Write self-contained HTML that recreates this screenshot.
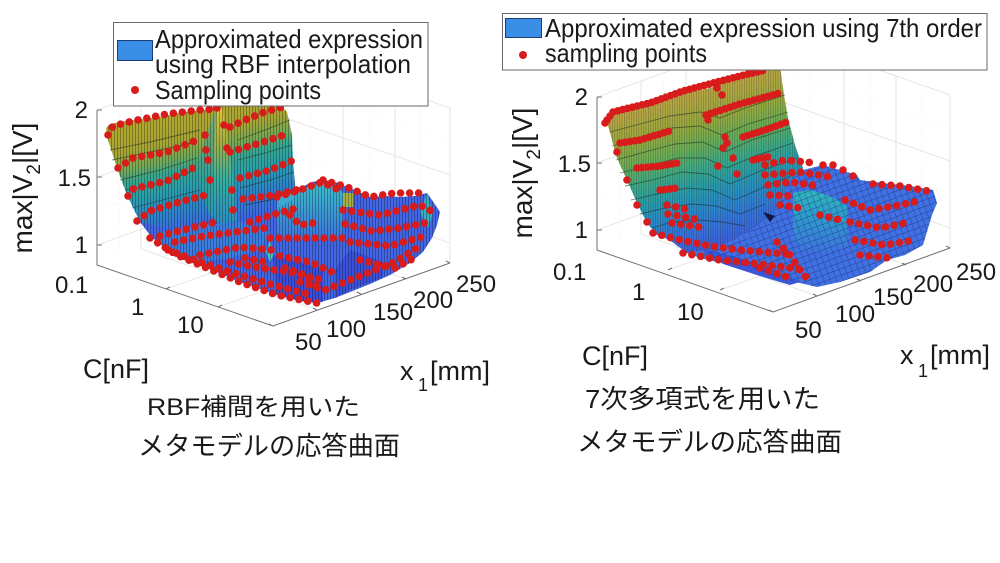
<!DOCTYPE html>
<html><head><meta charset="utf-8"><style>
html,body{margin:0;padding:0;background:#fff;}
svg{display:block;}
.t{font-family:"Liberation Sans","Noto Sans CJK JP",sans-serif;fill:#1a1a1a;}
.d{fill:none;stroke:#d81c1c;stroke-width:7.6;stroke-linecap:round;stroke-dasharray:0 9;}
.dd{fill:none;stroke:#d81c1c;stroke-width:7.6;stroke-linecap:round;stroke-dasharray:0 5;}
.g{stroke:#e2e2e2;stroke-width:0.9;fill:none;}
.gm{stroke:#ececec;stroke-width:0.7;fill:none;stroke-dasharray:1 2;}
.ax{stroke:#707070;stroke-width:1;fill:none;}
.c{fill:none;stroke:#1a2a20;stroke-width:0.9;stroke-opacity:0.55;}
</style></head><body>
<svg width="1000" height="563" viewBox="0 0 1000 563" xmlns="http://www.w3.org/2000/svg">
<defs>
<pattern id="vs" patternUnits="userSpaceOnUse" width="3" height="20"><rect x="0" y="0" width="0.9" height="20" fill="#000" fill-opacity="0.32"/></pattern>
<pattern id="vs2" patternUnits="userSpaceOnUse" width="2.4" height="20"><rect x="0" y="0" width="0.7" height="20" fill="#000" fill-opacity="0.28"/></pattern>
<pattern id="mesh" patternUnits="userSpaceOnUse" width="6" height="6" patternTransform="rotate(-20)"><path d="M0,0H6M0,0V6" stroke="#0c1850" stroke-width="0.9" stroke-opacity="0.55" fill="none"/></pattern>
<linearGradient id="gW" gradientUnits="userSpaceOnUse" x1="150" y1="100" x2="185" y2="245">
<stop offset="0" stop-color="#b8aa2a"/><stop offset="0.3" stop-color="#a9a634"/><stop offset="0.42" stop-color="#74aa56"/><stop offset="0.5" stop-color="#38a890"/><stop offset="0.62" stop-color="#2aa0ac"/><stop offset="0.75" stop-color="#2c88c8"/><stop offset="0.88" stop-color="#3a6ee0"/><stop offset="1" stop-color="#4458e6"/>
</linearGradient>
<linearGradient id="gS" gradientUnits="userSpaceOnUse" x1="0" y1="106" x2="0" y2="226">
<stop offset="0" stop-color="#e2c93a"/><stop offset="0.3" stop-color="#a8b040"/><stop offset="0.6" stop-color="#38b0a0"/><stop offset="1" stop-color="#2a8cc4"/>
</linearGradient>
<linearGradient id="gC" gradientUnits="userSpaceOnUse" x1="0" y1="180" x2="0" y2="240">
<stop offset="0" stop-color="#40c0cc"/><stop offset="0.35" stop-color="#3aa8d0"/><stop offset="1" stop-color="#3f74e0"/>
</linearGradient>
<linearGradient id="gW2" gradientUnits="userSpaceOnUse" x1="640" y1="90" x2="690" y2="257">
<stop offset="0" stop-color="#c6aa52"/><stop offset="0.12" stop-color="#baa846"/><stop offset="0.28" stop-color="#98ac40"/><stop offset="0.4" stop-color="#6cb058"/><stop offset="0.52" stop-color="#40ac88"/><stop offset="0.62" stop-color="#2ca2a8"/><stop offset="0.74" stop-color="#2a8ec8"/><stop offset="0.86" stop-color="#3676dc"/><stop offset="1" stop-color="#4060e0"/>
</linearGradient>
<linearGradient id="gC2" gradientUnits="userSpaceOnUse" x1="0" y1="188" x2="0" y2="255">
<stop offset="0" stop-color="#30b8b8"/><stop offset="0.4" stop-color="#2e9ccc"/><stop offset="1" stop-color="#3d70e0"/>
</linearGradient>
</defs>

<!-- ================= LEFT CHART ================= -->
<polygon points="97,110 274,47 450,108 450,263 274,202 97,265" fill="#fff"/>
<path class="g" d="M97,245 L274,182 L450,243 M97,177 L274,114 L450,175 M97,110 L274,47 L450,108 M274,47 V202 M450,108 V263 M141,249 V93 M186,234 V77 M230,218 V62 M343,226 V71 M395,244 V89"/>
<path class="gm" d="M97,211 L274,148 L450,209 M97,143 L274,80 L450,141 M119,257 V101 M163,241 V85 M208,226 V70 M252,210 V55 M310,215 V60 M370,235 V80 M420,252 V97"/>
<path class="g" d="M166,289 L343,226 M218,307 L395,244 M317,310 L141,249 M361,294 L186,234 M406,279 L230,218"/>
<path class="ax" d="M97,110 V265 L273,326 L450,263 M97,110 h5 M97,177 h5 M97,245 h5 M166,289 l4,-2 M218,307 l4,-2 M317,310 l-4,-2 M361,294 l-4,-2 M406,279 l-4,-2 M450,263 l-4,-2 M273,326 l-4,-2"/>

<polygon points="106,128 110,124 125,121 145,119 165,116 185,112 205,110 215,106 235,104 255,104 270,103 280,104 287,112 292,135 293,160 295,185 290,205 270,215 240,225 200,235 160,245 140,222 127,195 117,168 108,140" fill="url(#gW)"/>
<polygon points="106,128 110,124 125,121 145,119 165,116 185,112 205,110 215,106 235,104 255,104 270,103 280,104 287,112 292,135 293,160 295,185 290,205 270,215 240,225 200,235 160,245 140,222 127,195 117,168 108,140" fill="url(#vs)"/>
<path class="c" d="M110,150 L150,142 L200,130 M112,160 L150,152 L197,142 M120,180 L160,170 L197,158 M125,190 L165,182 L195,170 M132,208 L170,198 L200,190 M238,140 L265,130 L290,120 M238,160 L265,153 L292,145 M240,188 L270,180 L294,172 M245,205 L270,200 L294,194"/>
<polygon points="198,165 205,140 212,118 217,106 222,108 228,140 233,180 238,222 222,226 210,215 203,195" fill="url(#gS)"/>
<polygon points="198,165 205,140 212,118 217,106 214,150 212,200 210,215 203,195" fill="#2a9a9a" fill-opacity="0.55"/>
<polygon points="198,165 205,140 212,118 217,106 222,108 228,140 233,180 238,222 222,226 210,215 203,195" fill="url(#vs)"/>

<polygon points="140,222 150,235 157,242 177,255 207,268 240,282 277,295 300,301 317,303 335,298 350,292 370,284 390,275 410,263 423,252 432,238 437,225 440,212 432,200 427,193 415,196 400,197 385,196 370,197 355,190 347,187 335,182 323,180 312,182 300,188 292,200 275,210 250,218 220,225 190,230 165,228" fill="#4266e4"/>
<polygon points="273,255 300,262 323,270 323,302 300,301 277,295" fill="#3a4ed8"/>
<polygon points="350,250 383,262 383,277 350,290 335,298 335,270" fill="#3a52da"/>
<polygon points="160,232 200,225 240,222 270,232 260,250 230,258 200,262 177,255 157,242" fill="#3c7ee0"/>
<polygon points="277,195 300,189 323,182 343,192 343,237 300,240 277,237" fill="url(#gC)"/>
<polygon points="343,193 353,193 353,207 343,207" fill="#a6b240"/>
<polygon points="420,212 427,193 433,213 428,228" fill="#38b0c0"/>
<polygon points="266,252 270,240 274,254 270,262" fill="#40c8c0"/>
<polygon points="140,222 150,235 157,242 177,255 207,268 240,282 277,295 300,301 317,303 335,298 350,292 370,284 390,275 410,263 423,252 432,238 437,225 440,212 432,200 427,193 415,196 400,197 385,196 370,197 355,190 347,187 335,182 323,180 312,182 300,188 292,200 275,210 250,218 220,225 190,230 165,228" fill="url(#vs)"/>

<path class="d" d="M108,135 L113,126 L133,121 L167,114 L200,110 L214,109"/>
<path class="d" d="M230,127 L245,120 L262,113 L282,107"/>
<path class="d" d="M118,168 L133,158 L167,152 L197,140"/>
<path class="d" d="M230,152 L260,143 L290,133"/>
<path class="d" d="M128,196 L133,189 L167,181 L193,168"/>
<path class="d" d="M240,178 L270,170 L294,160"/>
<path class="d" d="M137,221 L150,211 L183,201 L206,195"/>
<path class="d" d="M243,199 L275,195 L300,189"/>
<path class="d" d="M160,236 L190,228 L216,222"/>
<path class="d" d="M250,222 L275,214 L297,208"/>
<path class="d" d="M150,238 L177,255 L207,268 L240,282 L277,295 L317,303"/>
<path class="d" d="M168,250 L200,262 L240,275 L280,287 L312,295"/>
<path class="d" d="M175,242 L205,236 L235,232 L265,228"/>
<path class="d" d="M200,255 L240,247 L272,250"/>
<path class="d" d="M230,262 L260,268 L290,272 L322,280"/>
<path class="d" d="M280,256 L310,262 L332,272"/>
<path class="d" d="M300,282 L325,290 L345,282 L370,272 L395,262 L420,246"/>
<path class="d" d="M270,238 L343,238"/>
<path class="d" d="M277,197 L300,190 L322,182 L343,192"/>
<path class="d" d="M323,180 L347,187 L370,197 L395,193 L427,193"/>
<path class="d" d="M343,210 L380,215 L420,205 L437,214"/>
<path class="d" d="M345,224 L372,231 L400,228 L430,222"/>
<path class="d" d="M350,242 L390,246 L425,236"/>
<path class="d" d="M360,260 L395,268 L418,256"/>
<path class="d" d="M290,215 L300,225 L320,222"/>
<path class="d" d="M285,268 L305,275 L320,290"/>
<path class="d" d="M245,258 L265,262"/>
<g fill="#d81c1c">
<circle cx="217" cy="108" r="3.8"/><circle cx="227" cy="148" r="3.8"/><circle cx="208" cy="160" r="3.8"/><circle cx="206" cy="150" r="3.8"/><circle cx="232" cy="190" r="3.8"/><circle cx="224" cy="125" r="3.8"/><circle cx="233" cy="210" r="3.8"/><circle cx="210" cy="180" r="3.8"/><circle cx="205" cy="135" r="3.8"/>
</g>

<rect x="113.5" y="22.5" width="314.5" height="83.5" fill="#fff" stroke="#6a6a6a" stroke-width="1"/>
<rect x="117.5" y="40.5" width="35" height="20" fill="#3a8ee6" stroke="#1e3c78" stroke-width="1"/>
<circle cx="135" cy="90" r="4" fill="#d81c1c"/>
<text class="t" x="155" y="48" font-size="26" textLength="268" lengthAdjust="spacingAndGlyphs">Approximated expression</text>
<text class="t" x="155" y="73" font-size="26" textLength="256" lengthAdjust="spacingAndGlyphs">using RBF interpolation</text>
<text class="t" x="155" y="99" font-size="26" textLength="166" lengthAdjust="spacingAndGlyphs">Sampling points</text>

<g class="t" font-size="24">
<text x="88" y="118" text-anchor="end">2</text>
<text x="91" y="186" text-anchor="end">1.5</text>
<text x="88" y="253" text-anchor="end">1</text>
<text x="55" y="293">0.1</text>
<text x="131" y="315">1</text>
<text x="177" y="333">10</text>
<text x="295" y="350">50</text>
<text x="326" y="337">100</text>
<text x="373" y="320">150</text>
<text x="413" y="308">200</text>
<text x="456" y="292">250</text>
</g>
<text class="t" x="83" y="378" font-size="27">C[nF]</text>
<text class="t" x="400" y="380" font-size="27">x</text>
<text class="t" x="418" y="391" font-size="18">1</text>
<text class="t" x="430" y="380" font-size="27">[mm]</text>
<text class="t" font-size="28" text-anchor="middle" transform="translate(32,188) rotate(-90)">max|V<tspan font-size="19" dy="8">2</tspan><tspan dy="-8">|[V]</tspan></text>

<text class="t" x="147" y="415" font-size="24" textLength="213" lengthAdjust="spacingAndGlyphs">RBF補間を用いた</text>
<text class="t" x="138" y="455" font-size="26" textLength="262" lengthAdjust="spacingAndGlyphs">メタモデルの応答曲面</text>

<!-- ================= RIGHT CHART ================= -->
<polygon points="597,97 774,33 950,95 950,248 774,186 597,250" fill="#fff"/>
<path class="g" d="M597,230 L774,166 L950,228 M597,163 L774,99 L950,161 M597,97 L774,33 L950,95 M774,33 V186 M950,95 V248 M641,234 V81 M686,218 V65 M730,202 V49 M844,211 V58 M896,229 V76"/>
<path class="gm" d="M597,197 L774,133 L950,195 M597,130 L774,66 L950,128 M619,242 V89 M663,226 V73 M708,210 V57 M752,194 V41 M810,199 V46 M870,220 V67 M922,238 V85"/>
<path class="g" d="M668,270 L844,208 M720,290 L896,228 M817,296 L641,234 M861,281 L686,218 M906,265 L730,202"/>
<path class="ax" d="M597,97 V250 L773,312 L950,248 M597,97 h5 M597,163 h5 M597,230 h5 M668,270 l4,-2 M720,290 l4,-2 M817,296 l-4,-2 M861,281 l-4,-2 M906,265 l-4,-2 M950,248 l-4,-2 M773,312 l-4,-2"/>

<polygon points="607,122 612,112 623,107 640,106 657,102 673,97 690,92 710,88 723,83 740,79 757,75 770,68 780,66 784,95 788,118 795,145 803,168 798,185 785,200 772,215 755,228 735,240 710,250 687,253 667,238 657,235 647,223 637,203 627,180 617,158" fill="url(#gW2)"/>
<polygon points="607,122 612,112 623,107 640,106 657,102 673,97 690,92 710,88 723,83 740,79 757,75 770,68 780,66 784,95 788,118 795,145 803,168 798,185 785,200 772,215 755,228 735,240 710,250 687,253 667,238 657,235 647,223 637,203 627,180 617,158" fill="url(#vs2)"/>
<path class="c" d="M610,132 L640,124 L670,116 L700,112 L720,118 L745,108 L785,95 M612,146 L640,138 L672,128 L700,126 L722,135 L748,124 L788,112 M616,160 L645,152 L675,144 L703,142 L725,152 L752,140 L790,128 M620,173 L648,166 L678,158 L705,158 L727,168 L755,156 L793,143 M625,186 L652,180 L682,172 L708,174 L730,184 L758,172 L797,158 M631,200 L657,194 L687,188 L712,190 L735,200 L762,188 L800,172 M640,214 L665,208 L692,204 L716,206 L740,214 L765,204 M652,228 L672,222 L698,220 L722,222 L745,226"/>
<polygon points="657,235 667,238 687,253 710,250 735,240 755,228 772,215 790,180 803,170 823,165 840,170 857,175 860,180 875,182 890,184 910,186 933,190 937,203 932,215 923,245 905,255 887,260 870,272 840,282 817,287 800,283 777,277 750,267 733,263 717,262 700,258 687,253 677,243" fill="#4070e2"/>
<polygon points="793,193 810,190 830,196 847,206 847,245 835,252 810,256 793,240" fill="url(#gC2)"/>
<polygon points="700,248 740,258 770,268 800,282 790,285 760,276 723,264" fill="#3a56d8"/>
<polygon points="763,212 775,216 770,222" fill="#10183a"/>
<polygon points="657,235 667,238 687,253 710,250 735,240 755,228 772,215 790,180 803,170 823,165 840,170 857,175 860,180 875,182 890,184 910,186 933,190 937,203 932,215 923,245 905,255 887,260 870,272 840,282 817,287 800,283 777,277 750,267 733,263 717,262 700,258 687,253 677,243" fill="url(#mesh)"/>

<path class="dd" d="M607,120 L613,112 L633,107 L650,103 L683,91 L717,82 L740,76 L766,70"/>
<path class="dd" d="M706,115 L740,104 L780,93"/>
<path class="dd" d="M620,143 L640,140 L673,130"/>
<path class="dd" d="M743,137 L765,130 L787,122"/>
<path class="dd" d="M637,168 L660,166 L677,163"/>
<path class="dd" d="M753,160 L772,156"/>
<path class="dd" d="M660,190 L678,188"/>
<path class="d" d="M667,205 L690,210 M668,214 L700,220 M672,223 L705,228"/>
<path class="d" d="M765,165 L785,160 L815,163 M765,175 L800,172 L830,177 M768,185 L790,182 L818,186 M770,195 L792,196 M780,205 L800,208"/>
<path class="d" d="M653,233 L680,240 L710,246 L740,250 L787,254"/>
<path class="d" d="M683,253 L720,260 L760,264 L807,270"/>
<path class="d" d="M777,242 L790,255 L800,270 L810,282 M760,268 L790,278"/>
<path class="d" d="M845,200 L870,210 L900,205 L923,200 M850,222 L880,228 L910,222 M855,240 L885,245 L915,240 M860,255 L890,258 M873,184 L900,186 L933,192 M820,215 L840,220"/>
<g fill="#d81c1c">
<circle cx="717" cy="88" r="3.8"/><circle cx="722" cy="95" r="3.8"/><circle cx="708" cy="120" r="3.8"/><circle cx="725" cy="137" r="3.8"/><circle cx="727" cy="143" r="3.8"/><circle cx="723" cy="148" r="3.8"/><circle cx="733" cy="158" r="3.8"/><circle cx="718" cy="166" r="3.8"/><circle cx="737" cy="174" r="3.8"/><circle cx="617" cy="152" r="3.8"/><circle cx="627" cy="180" r="3.8"/><circle cx="637" cy="205" r="3.8"/><circle cx="647" cy="222" r="3.8"/><circle cx="605" cy="123" r="3.8"/>
<circle cx="823" cy="165" r="3.8"/><circle cx="833" cy="165" r="3.8"/><circle cx="843" cy="170" r="3.8"/><circle cx="853" cy="176" r="3.8"/>
</g>

<rect x="502.5" y="13.5" width="484.5" height="56.5" fill="#fff" stroke="#6a6a6a" stroke-width="1"/>
<rect x="505.5" y="18.5" width="36" height="19" fill="#3a8ee6" stroke="#1e3c78" stroke-width="1"/>
<circle cx="523" cy="55" r="4" fill="#d81c1c"/>
<text class="t" x="545" y="37" font-size="26" textLength="437" lengthAdjust="spacingAndGlyphs">Approximated expression using 7th order</text>
<text class="t" x="545" y="62" font-size="26" textLength="162" lengthAdjust="spacingAndGlyphs">sampling points</text>

<g class="t" font-size="24">
<text x="588" y="105" text-anchor="end">2</text>
<text x="591" y="172" text-anchor="end">1.5</text>
<text x="588" y="238" text-anchor="end">1</text>
<text x="553" y="280">0.1</text>
<text x="632" y="300">1</text>
<text x="677" y="320">10</text>
<text x="795" y="338">50</text>
<text x="835" y="322">100</text>
<text x="873" y="305">150</text>
<text x="913" y="292">200</text>
<text x="956" y="280">250</text>
</g>
<text class="t" x="582" y="365" font-size="27">C[nF]</text>
<text class="t" x="900" y="364" font-size="27">x</text>
<text class="t" x="918" y="377" font-size="18">1</text>
<text class="t" x="930" y="364" font-size="27">[mm]</text>
<text class="t" font-size="28" text-anchor="middle" transform="translate(532,173) rotate(-90)">max|V<tspan font-size="19" dy="8">2</tspan><tspan dy="-8">|[V]</tspan></text>

<text class="t" x="585" y="408" font-size="26" textLength="235" lengthAdjust="spacingAndGlyphs">7次多項式を用いた</text>
<text class="t" x="577" y="451" font-size="26" textLength="265" lengthAdjust="spacingAndGlyphs">メタモデルの応答曲面</text>
</svg>
</body></html>
